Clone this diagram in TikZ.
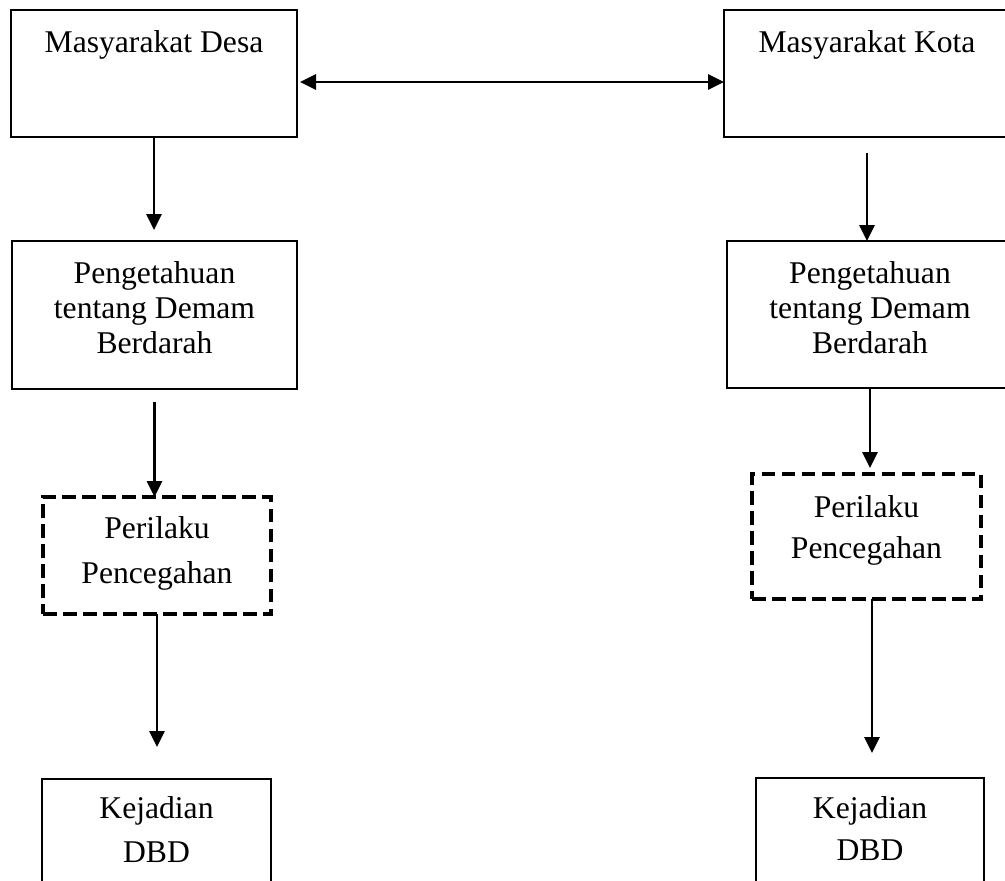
\documentclass[tikz,border=0pt]{standalone}
\usepackage{fontspec}
\setmainfont{Liberation Serif}
\usepackage{tikz}
\usetikzlibrary{
  arrows.meta,
  positioning
}

\begin{document}
\begin{tikzpicture}[
    every node/.style={font=\fontsize{18}{19.9}\selectfont, align=center, inner sep=0pt, outer sep=0pt},
    box/.style={draw, line width=1.5pt, anchor=north},
    thinbox/.style={draw, line width=1.1pt, anchor=north},
    dashbox/.style={draw, line width=2.8pt, dash pattern=on 0.27cm off 0.13cm, anchor=north},
    arr/.style={line width=1.6pt, -{Triangle[length=0.32cm, width=0.3cm]}}
  ]
  \useasboundingbox (0,0) rectangle (20.1,-17.6);

  \node[box, minimum width=5.72cm, minimum height=2.54cm, text height=0.84cm, text depth=1.70cm] (desa) at (3.08,-0.2) {Masyarakat Desa};
  \node[box, minimum width=5.72cm, minimum height=2.54cm, text height=0.84cm, text depth=1.70cm] (kota) at (17.34,-0.2) {Masyarakat Kota};

  \node[box, minimum width=5.70cm, minimum height=2.96cm, text height=2.24cm, text depth=0.72cm] (pengL) at (3.09,-4.82) {Pengetahuan\\tentang Demam\\Berdarah};
  \node[box, minimum width=5.72cm, minimum height=2.94cm, text height=2.24cm, text depth=0.70cm] (pengR) at (17.40,-4.82) {Pengetahuan\\tentang Demam\\Berdarah};

  \node[dashbox, minimum width=4.56cm, minimum height=2.34cm, text height=1.72cm, text depth=0.62cm] (dashL) at (3.14,-9.94) {Perilaku\\[0.20cm]Pencegahan};
  \node[dashbox, minimum width=4.58cm, minimum height=2.50cm, text height=1.68cm, text depth=0.82cm] (dashR) at (17.33,-9.48) {Perilaku\\[0.12cm]Pencegahan};

  \node[thinbox, minimum width=4.58cm, minimum height=2.42cm, text height=1.66cm, text depth=0.76cm] (kejL) at (3.13,-15.58) {Kejadian\\[0.18cm]DBD};
  \node[thinbox, minimum width=4.56cm, minimum height=2.44cm, text height=1.64cm, text depth=0.80cm] (kejR) at (17.40,-15.56) {Kejadian\\[0.14cm]DBD};

  \draw[line width=1.6pt, {Triangle[length=0.32cm, width=0.3cm]}-{Triangle[length=0.32cm, width=0.3cm]}, shorten <=0.06cm] ([yshift=-0.17cm]desa.east) -- ([yshift=-0.17cm]desa.east -| kota.west);

  \draw[arr, shorten >=0.22cm] (desa.south) -- (desa.south |- pengL.north);
  \draw[arr, shorten <=0.32cm] (kota.south) -- (kota.south |- pengR.north);
  \draw[arr, shorten <=0.26cm] (pengL.south) -- (pengL.south |- dashL.north);
  \draw[arr, shorten >=0.12cm] (pengR.south) -- (pengR.south |- dashR.north);
  \draw[arr, shorten >=0.64cm] (dashL.south) -- (dashL.south |- kejL.north);
  \draw[arr, shorten >=0.50cm] ([xshift=0.11cm]dashR.south) -- ([xshift=0.11cm]dashR.south |- kejR.north);
\end{tikzpicture}
\end{document}
